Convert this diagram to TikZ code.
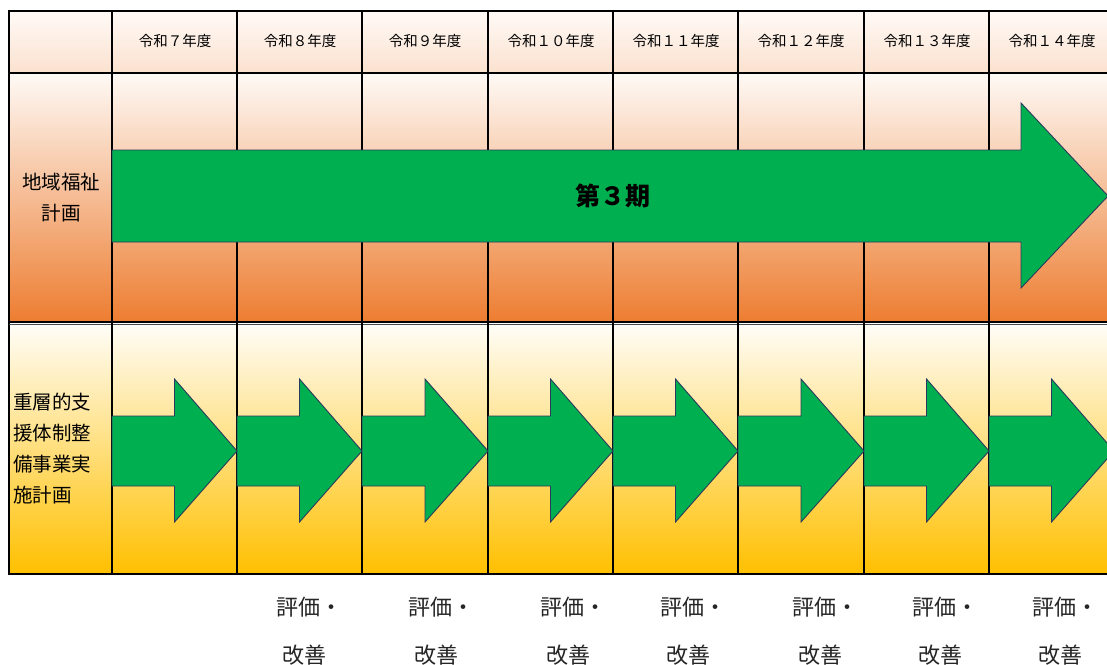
\documentclass[tikz,border=0pt]{standalone}
\usepackage{fontspec}
\setmainfont{Noto Sans CJK JP}
\begin{document}
\begin{tikzpicture}[x=1pt,y=-1pt,
  grid/.style={draw=black,line width=1.1pt},
  arrowshape/.style={fill=arrowgreen,draw=arrowedge,line width=0.9pt,line join=miter},
  yearlbl/.style={inner sep=0pt,font=\fontsize{14.5}{16}\selectfont},
  sidelbl/.style={inner sep=0pt,font=\fontsize{19.5}{31}\selectfont},
  evallbl/.style={inner sep=0pt,anchor=west,font=\fontsize{22}{24}\selectfont,text=black!85}]
\definecolor{arrowgreen}{HTML}{00B050}
\definecolor{arrowedge}{HTML}{2B3A5C}
\definecolor{hdrtop}{HTML}{FFFAF7}
\definecolor{hdrbot}{HTML}{FBE1CF}
\definecolor{r1top}{HTML}{FEFAF6}
\definecolor{r1bot}{HTML}{ED7D31}
\definecolor{r2top}{HTML}{FFFDF8}
\definecolor{r2bot}{HTML}{FFC000}
\useasboundingbox (0,0) rectangle (1107,664);
\clip (0,0) rectangle (1107,664);
\fill[white] (0,0) rectangle (1107,664);
% row shadings
\shade[top color=hdrtop,bottom color=hdrbot] (9,11) rectangle (1120,73);
\shade[top color=r1top,bottom color=r1bot] (9,73) rectangle (1120,322);
\shade[top color=r2top,bottom color=r2bot] (9,324) rectangle (1120,574);
% grid
\draw[grid] (1120,11) -- (9,11) -- (9,574) -- (1120,574);
\draw[grid] (9,73) -- (1120,73);
\draw[grid] (9,322) -- (1120,322);
\draw[grid,line width=0.8pt,draw=black!70] (9,324) -- (1120,324);
\foreach \cx in {112,237,362,488,613,738,864,989}{
  \draw[grid] (\cx,11) -- (\cx,574);
}
% header labels
\node[yearlbl] (h1) at (175,41) {令和７年度};
\node[yearlbl] (h2) at (300,41) {令和８年度};
\node[yearlbl] (h3) at (425,41) {令和９年度};
\node[yearlbl] (h4) at (551,41) {令和１０年度};
\node[yearlbl] (h5) at (676,41) {令和１１年度};
\node[yearlbl] (h6) at (801,41) {令和１２年度};
\node[yearlbl] (h7) at (927,41) {令和１３年度};
\node[yearlbl] (h8) at (1052,41) {令和１４年度};
% big arrow
\draw[arrowshape] (112,150) -- (1021,150) -- (1021,103) -- (1108,196) -- (1021,288) -- (1021,242) -- (112,242) -- cycle;
\node[inner sep=0pt,font=\fontsize{25}{28}\selectfont\bfseries] (period) at (613,196) {第３期};
% small arrows
\foreach \L/\W in {112/125,237/125,362/126,488/125,613/125,738/126,864/125,989/125}{
  \draw[arrowshape] (\L,416) -- ({\L+0.5*\W},416) -- ({\L+0.5*\W},379) -- ({\L+\W},451)
     -- ({\L+0.5*\W},522) -- ({\L+0.5*\W},486) -- (\L,486) -- cycle;
}
% side labels
\node[sidelbl,align=center] (plan) at (61,198) {地域福祉\\計画};
\node[sidelbl,align=left,anchor=west] (jusou) at (13,449) {重層的支\\援体制整\\備事業実\\施計画};
% evaluation labels
\foreach \s/\n in {276/1,408/2,540/3,660/4,792/5,912/6,1032/7}{
  \node[evallbl] (e\n) at (\s,607) {評価・};
  \node[evallbl] (k\n) at ({\s+6},655) {改善};
}
\end{tikzpicture}
\end{document}
